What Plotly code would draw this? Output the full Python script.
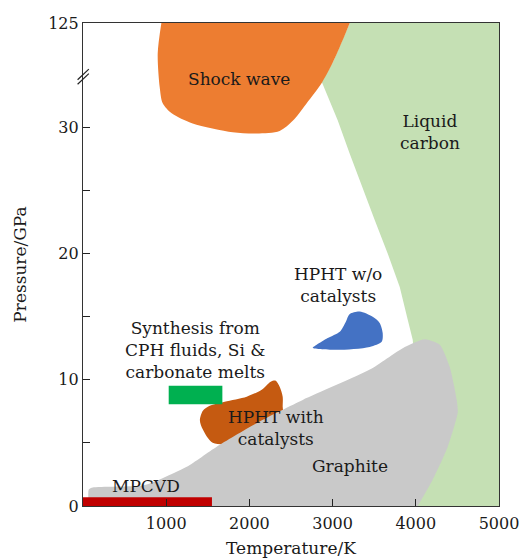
import plotly.graph_objects as go

# ---- data (Temperature in K, Pressure in GPa; top of axis is the broken "125" level) ----
P_TOP = 38.25          # linear position of the "125" label
P_BREAK = 34.0         # where the axis break is drawn

shock_T = [942, 898, 922, 958, 1066, 1318, 1799, 2088, 2364, 2521, 2689, 2869, 3001, 3122, 3206]
shock_P = [P_TOP, 35.85, 33.16, 31.9, 31.1, 30.3, 29.6, 29.5, 29.7, 30.5, 31.9, 33.5, 35.1, 36.9, P_TOP]

liquid_T = [3206, 3122, 3001, 2869, 3061, 3206, 3350, 3506, 3662, 3807, 3903, 3963, 4023, 4023, 5000, 5000]
liquid_P = [P_TOP, 36.9, 35.1, 33.6, 30.55, 27.9, 25.3, 22.65, 20.0, 17.35, 14.74, 13.16, 8.4, 0, 0, P_TOP]

graphite_T = [69, 69, 117, 719, 922, 1247, 1607, 2124, 2641, 3447, 3843, 4107, 4288, 4408, 4492, 4504, 4384, 4204, 4023]
graphite_P = [0, 1.3, 1.46, 1.62, 2.1, 3.1, 4.7, 6.7, 8.4, 10.8, 12.5, 13.2, 12.77, 11.0, 8.4, 7.4, 4.7, 2.1, 0]

hpht_cat_T = [1405, 1441, 1559, 1884, 2400, 2400, 2400, 2364, 2316, 2256, 2148, 1968, 1703, 1523, 1441, 1405]
hpht_cat_P = [6.8, 6.05, 5.0, 5.0, 6.8, 7.87, 8.66, 9.45, 9.92, 9.84, 9.2, 8.66, 8.26, 7.94, 7.55, 6.8]

hpht_free_T = [2761, 3049, 3446, 3590, 3602, 3566, 3482, 3326, 3206, 3158, 3086, 2941, 2809, 2761]
hpht_free_P = [12.53, 12.37, 12.6, 13.0, 13.7, 14.5, 14.98, 15.4, 15.2, 14.58, 13.8, 13.3, 12.77, 12.53]

synth_T = [1030, 1675]
synth_P = [8.05, 9.53]

mpcvd_T = [0, 1550]
mpcvd_P = [0, 0.7]

x_ticks = [1000, 2000, 3000, 4000, 5000]
y_ticks = [0, 5, 10, 15, 20, 25, 30, P_TOP]
y_ticktext = ["0", "", "10", "", "20", "", "30", "125"]

labels = [
    ("Shock wave", 1872, 33.8),
    ("Liquid<br>carbon", 4167, 29.6),
    ("HPHT w/o<br>catalysts", 3061, 17.47),
    ("Synthesis from<br>CPH fluids, Si &amp;<br>carbonate melts", 1343, 12.37),
    ("HPHT with<br>catalysts", 2322, 6.2),
    ("Graphite", 3205, 3.2),
    ("MPCVD", 760, 1.62),
]

FONT = "DejaVu Serif"

fig = go.Figure()

def region(T, P, color, shape="linear", smoothing=1.0):
    fig.add_trace(go.Scatter(x=T, y=P, mode="lines", fill="toself", fillcolor=color,
                             line=dict(width=0, color=color, shape=shape, smoothing=smoothing),
                             hoverinfo="skip", showlegend=False))

def rect(T, P, color):
    fig.add_trace(go.Scatter(x=[T[0], T[1], T[1], T[0], T[0]], y=[P[0], P[0], P[1], P[1], P[0]],
                             mode="lines", fill="toself", fillcolor=color,
                             line=dict(width=0, color=color), hoverinfo="skip", showlegend=False))

region(liquid_T, liquid_P, "#c5e0b4")
region(shock_T, shock_P, "#ed7d31", "spline", 0.8)
region(hpht_cat_T, hpht_cat_P, "#c55a11", "spline", 0.8)
region(graphite_T, graphite_P, "#c9c9c9", "spline", 0.6)
region(hpht_free_T, hpht_free_P, "#4472c4", "spline", 0.8)
rect(synth_T, synth_P, "#00b050")
rect(mpcvd_T, mpcvd_P, "#c00000")

for text, t, p in labels:
    fig.add_annotation(x=t, y=p, text=text, showarrow=False,
                       font=dict(family=FONT, size=17, color="#1a1a1a"), align="center")

# axis break marks
for dy in (-0.18, 0.18):
    fig.add_shape(type="line", xref="paper", yref="y",
                  x0=-0.013, x1=0.014, y0=P_BREAK - 0.42 + dy, y1=P_BREAK + 0.42 + dy,
                  line=dict(color="#222", width=1.2))

fig.update_layout(
    width=520, height=558,
    margin=dict(l=83, r=21, t=23, b=52),
    paper_bgcolor="white", plot_bgcolor="white",
    font=dict(family=FONT, size=16, color="#1a1a1a"),
    showlegend=False,
)
fig.update_xaxes(range=[0, 5000], tickvals=x_ticks, ticks="inside", ticklen=7, tickcolor="#222",
                 showgrid=False, zeroline=False, showline=True, linecolor="#333", linewidth=1.2,
                 mirror=True, automargin=False, ticklabelstandoff=3,
                 title=dict(text="Temperature/K", font=dict(size=17), standoff=10),
                 tickfont=dict(size=16))
fig.update_yaxes(range=[0, P_TOP], tickvals=y_ticks, ticktext=y_ticktext, ticks="inside", ticklen=7,
                 tickcolor="#222", showgrid=False, zeroline=False, showline=True, linecolor="#333",
                 linewidth=1.2, mirror=True, automargin=False,
                 title=dict(text="Pressure/GPa", font=dict(size=17), standoff=17),
                 tickfont=dict(size=16))

fig.write_html("out.html")
